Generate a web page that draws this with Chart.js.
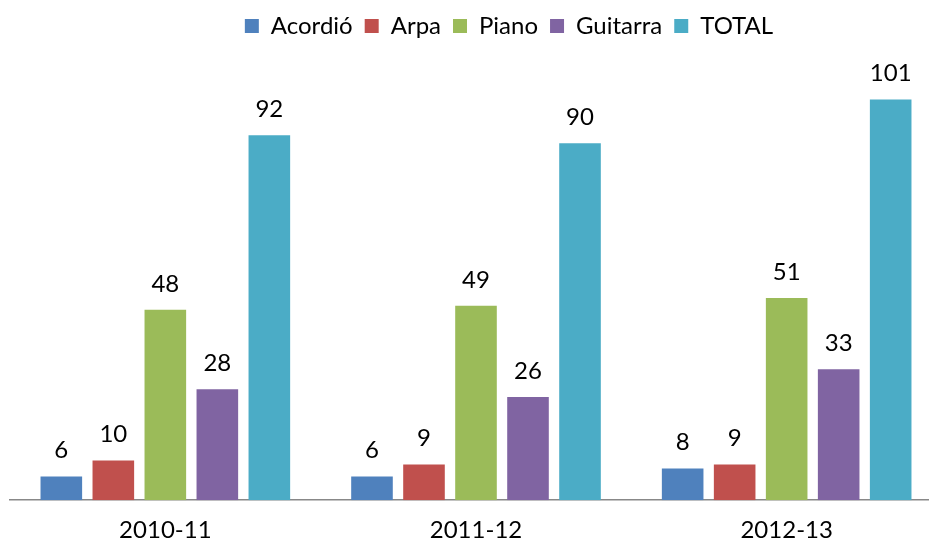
<!DOCTYPE html>
<html>
<head>
<meta charset="utf-8">
<script src="https://cdn.jsdelivr.net/npm/chart.js@4"></script>
<style>
  html, body { margin: 0; padding: 0; background: #fff; overflow: hidden; }
  canvas { display: block; }
</style>
</head>
<body>
<canvas id="chart" width="942" height="545"></canvas>
<script>
const cursos = ['2010-11', '2011-12', '2012-13'];
const acordio = [6, 6, 8];
const arpa = [10, 9, 9];
const piano = [48, 49, 51];
const guitarra = [28, 26, 33];
const total = [92, 90, 101];

const FONT = 'Lato';

// value labels above each bar
const barLabels = {
    id: 'barLabels',
    afterDatasetsDraw(chart) {
        const ctx = chart.ctx;
        ctx.save();
        ctx.font = '24px ' + FONT;
        ctx.fillStyle = '#000';
        ctx.textAlign = 'center';
        ctx.textBaseline = 'middle';
        chart.data.datasets.forEach((ds, i) => {
            chart.getDatasetMeta(i).data.forEach((bar, j) => {
                ctx.fillText(ds.data[j], bar.x, bar.y - 26);
            });
        });
        ctx.restore();
    }
};

// excel puts the legend a bit right of centre
const shiftLegend = {
    id: 'shiftLegend',
    afterLayout(chart) {
        chart.legend.left += 33;
        chart.legend.right += 33;
    }
};

const ctx = document.getElementById('chart').getContext('2d');
const myChart = new Chart(ctx, {
    type: 'bar',
    data: {
        labels: cursos,
        datasets: [
            { label: 'Acordió', data: acordio, backgroundColor: '#4F81BD' },
            { label: 'Arpa', data: arpa, backgroundColor: '#C0504D' },
            { label: 'Piano', data: piano, backgroundColor: '#9BBB59' },
            { label: 'Guitarra', data: guitarra, backgroundColor: '#8064A2' },
            { label: 'TOTAL', data: total, backgroundColor: '#4BACC6' }
        ]
    },
    options: {
        responsive: false,
        maintainAspectRatio: false,
        animation: false,
        layout: { padding: { left: 10, right: 0, top: 2, bottom: -16 } },
        categoryPercentage: 0.837,
        barPercentage: 0.8,
        plugins: {
            legend: {
                position: 'top',
                labels: {
                    font: { family: FONT, size: 24 },
                    color: '#000',
                    boxWidth: 14,
                    boxHeight: 14,
                    padding: 12
                }
            },
            tooltip: { enabled: false }
        },
        scales: {
            x: {
                grid: { display: false, drawTicks: false },
                border: { color: '#888', width: 1.5 },
                ticks: { font: { family: FONT, size: 24 }, color: '#000', padding: 16 }
            },
            y: {
                display: false,
                min: 0,
                max: 114
            }
        }
    },
    plugins: [barLabels, shiftLegend]
});
</script>
</body>
</html>
